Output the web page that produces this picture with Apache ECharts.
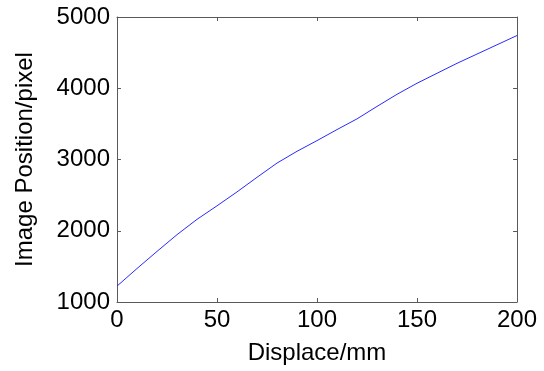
<!DOCTYPE html>
<html>
<head>
<meta charset="utf-8">
<script src="https://cdn.jsdelivr.net/npm/echarts@6/dist/echarts.min.js"></script>
<style>
html,body{margin:0;padding:0;background:#fff;}
#c{width:544px;height:371px;}
</style>
</head>
<body>
<div id="c"></div>
<script>
const displaceMm = [0,10,20,30,40,50,60,70,80,90,100,110,120,130,140,150,160,170,180,190,200];
const imagePosition = [1223,1470,1710,1945,2160,2350,2545,2750,2950,3115,3265,3420,3570,3745,3915,4070,4210,4350,4480,4610,4740];
const xTicks = {min:0, max:200, interval:50};
const yTicks = {min:1000, max:5000, interval:1000};

const font = '"Liberation Sans", Arial, sans-serif';
const axisColor = '#5a5a5a';
const chart = echarts.init(document.getElementById('c'), null, {renderer:'canvas'});
const seriesData = displaceMm.map((x,i)=>[x, imagePosition[i]]);
const tickStyle = {show:true, inside:true, length:4, lineStyle:{color:axisColor,width:1}};
chart.setOption({
  animation:false,
  backgroundColor:'#ffffff',
  grid:{left:117, right:27, top:17, bottom:69, containLabel:false},
  xAxis:[{
    type:'value', min:xTicks.min, max:xTicks.max, interval:xTicks.interval,
    name:'Displace/mm', nameLocation:'middle', nameGap:39,
    nameTextStyle:{fontFamily:font, fontSize:24, color:'#000'},
    axisLine:{show:true, onZero:false, lineStyle:{color:axisColor,width:1}},
    axisTick:tickStyle,
    axisLabel:{fontFamily:font, fontSize:24, color:'#000', margin:6, formatter:v=>String(v)},
    splitLine:{show:false}
  },{
    type:'value', position:'top', min:xTicks.min, max:xTicks.max, interval:xTicks.interval,
    axisLine:{show:true, onZero:false, lineStyle:{color:axisColor,width:1}},
    axisTick:tickStyle, axisLabel:{show:false}, splitLine:{show:false}
  }],
  yAxis:[{
    type:'value', min:yTicks.min, max:yTicks.max, interval:yTicks.interval,
    name:'Image Position/pixel', nameLocation:'middle', nameGap:80,
    nameTextStyle:{fontFamily:font, fontSize:24, color:'#000'},
    axisLine:{show:true, onZero:false, lineStyle:{color:axisColor,width:1}},
    axisTick:tickStyle,
    axisLabel:{fontFamily:font, fontSize:24, color:'#000', margin:7, formatter:v=>String(v)},
    splitLine:{show:false}
  },{
    type:'value', position:'right', min:yTicks.min, max:yTicks.max, interval:yTicks.interval,
    axisLine:{show:true, onZero:false, lineStyle:{color:axisColor,width:1}},
    axisTick:tickStyle, axisLabel:{show:false}, splitLine:{show:false}
  }],
  series:[{
    type:'line', data:seriesData, xAxisIndex:0, yAxisIndex:0,
    showSymbol:false, smooth:false,
    lineStyle:{color:'#2a2aff', width:1}
  }]
});
</script>
</body>
</html>
